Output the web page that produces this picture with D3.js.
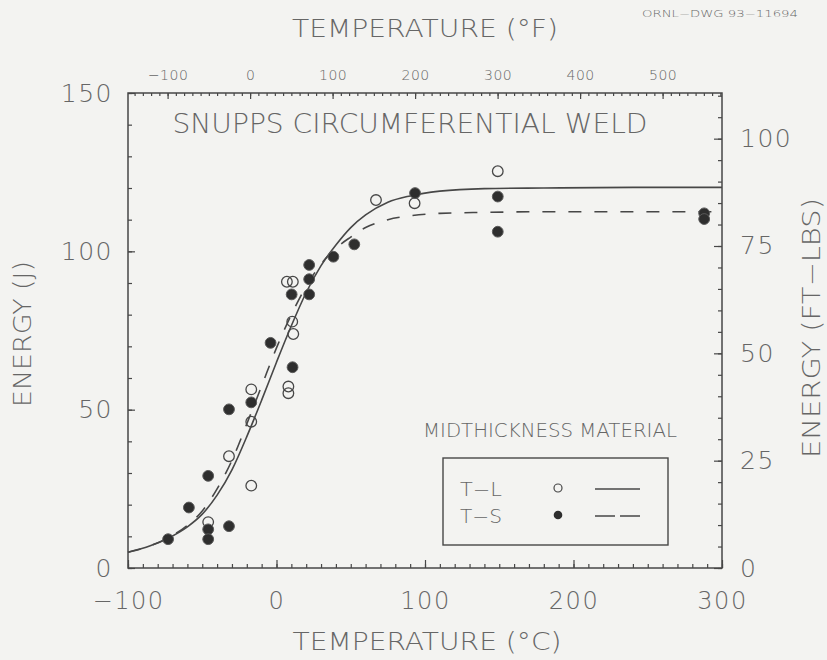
<!DOCTYPE html>
<html>
<head>
<meta charset="utf-8">
<script src="https://cdn.jsdelivr.net/npm/d3@7/dist/d3.min.js"></script>
<style>
  body { margin: 0; background: #f3f3f1; }
  svg { display: block; }
  text { font-family: "DejaVu Sans", "Liberation Sans", sans-serif; font-weight: 300; fill: #666; }
</style>
</head>
<body>
<div id="grafico"></div>
<script>
// Datos (temperatura en °C, energía en J)
var tlTemp   = [-46, -32, -17, -17, -17, 8, 8, 7, 11, 10.6, 11.3, 67, 93, 149];
var tlEnergy = [14.5, 35.3, 56.4, 46.2, 26, 57.3, 55.2, 90.4, 90.4, 77.8, 73.9, 116.2, 115.2, 125.3];

var tsTemp   = [-73, -59, -46, -46, -46, -32, -32, -17, -4, 10.8, 10.2, 22, 22, 22, 38.3, 52.4, 93.3, 149, 149, 288, 288];
var tsEnergy = [9.1, 19.1, 29.1, 12.2, 9.1, 13.2, 50.1, 52.3, 71.1, 63.4, 86.4, 95.7, 91.2, 86.4, 98.3, 102.2, 118.4, 117.3, 106.2, 112, 110.2];

// Curvas de ajuste
var fitTemp  = [-100, -85, -73, -60, -50, -40, -30, -20, -10, 0, 10, 20, 30, 40, 50, 60, 75, 90, 110, 140, 180, 240, 300];
var tlFit    = [5, 7, 9.4, 13, 17, 23, 31, 41.5, 53, 65, 76.5, 87, 95.5, 102, 107.5, 111.5, 115.5, 117.5, 119, 119.8, 120, 120.2, 120.2];
var tsFit    = [5, 7, 9.5, 13.5, 18, 25, 34, 45.5, 57.5, 69.5, 80, 89, 96, 101, 104.5, 107.5, 110, 111.2, 112, 112.3, 112.5, 112.5, 112.5];

// Etiquetas de los ejes
var ticksC  = [-100, 0, 100, 200, 300];
var ticksF  = [-100, 0, 100, 200, 300, 400, 500];
var ticksJ  = [0, 50, 100, 150];
var ticksFt = [0, 25, 50, 75, 100];

var width = 827, height = 660;
var pLeft = 128, pRight = 722, pTop = 93, pBottom = 568;
var ink = "#474747";
var txt = "#676767";

function cToF(c) { return c * 9 / 5 + 32; }

var svg = d3.select("#grafico")
  .append("svg")
  .attr("width", width)
  .attr("height", height);

var x = d3.scaleLinear().domain([-100, 300]).range([pLeft, pRight]);
var y = d3.scaleLinear().domain([0, 150]).range([pBottom, pTop]);
var xF = d3.scaleLinear().domain([cToF(-100), cToF(300)]).range([pLeft, pRight]);
var yFt = d3.scaleLinear().domain([0, 150 / 1.3558]).range([pBottom, pTop]);

// Función para dibujar un eje sin la línea de dominio
function drawAxis(axis, tx, ty, fontSize) {
  var g = svg.append("g")
    .attr("transform", "translate(" + tx + "," + ty + ")")
    .call(axis);
  g.select(".domain").remove();
  g.selectAll("line").attr("stroke", ink).attr("stroke-width", 1.2);
  g.selectAll("text")
    .attr("font-size", fontSize)
    .attr("font-family", "DejaVu Sans, sans-serif")
    .attr("font-weight", 300)
    .attr("fill", txt)
    .attr("letter-spacing", fontSize > 20 ? 1.5 : 0.5);
  return g;
}

// Eje inferior (°C)
drawAxis(d3.axisBottom(x).tickValues(d3.range(-100, 301, 10)).tickSize(-4).tickFormat(""), 0, pBottom, 10);
drawAxis(d3.axisBottom(x).tickValues(ticksC).tickSize(-8).tickPadding(24), 0, pBottom, 24);

// Eje superior (°F)
drawAxis(d3.axisTop(xF).tickValues(d3.range(-140, 571, 10)).tickSize(-3).tickFormat(""), 0, pTop, 10);
drawAxis(d3.axisTop(xF).tickValues(ticksF).tickSize(-6).tickPadding(13), 0, pTop, 14);

// Eje izquierdo (J)
drawAxis(d3.axisLeft(y).tickValues(d3.range(0, 151, 10)).tickSize(-4).tickFormat(""), pLeft, 0, 10);
drawAxis(d3.axisLeft(y).tickValues(ticksJ).tickSize(-7).tickPadding(15), pLeft, 0, 25);

// Eje derecho (ft-lbs)
drawAxis(d3.axisRight(yFt).tickValues(d3.range(0, 111, 5)).tickSize(-4).tickFormat(""), pRight, 0, 10);
drawAxis(d3.axisRight(yFt).tickValues(ticksFt).tickSize(-8).tickPadding(18), pRight, 0, 25);

// Marco
svg.append("rect")
  .attr("x", pLeft).attr("y", pTop)
  .attr("width", pRight - pLeft).attr("height", pBottom - pTop)
  .attr("fill", "none").attr("stroke", ink).attr("stroke-width", 1.5);

// Títulos
function addText(str, tx, ty, size, len, rotate) {
  var t = svg.append("text")
    .attr("x", tx).attr("y", ty)
    .attr("font-size", size)
    .attr("text-anchor", "middle")
    .attr("textLength", len)
    .attr("lengthAdjust", "spacingAndGlyphs")
    .text(str);
  if (rotate) t.attr("transform", "rotate(-90," + tx + "," + ty + ")");
  return t;
}

addText("TEMPERATURE (°F)", 425, 37, 25, 266);
addText("TEMPERATURE (°C)", 427, 650, 25, 269);
addText("ENERGY (J)", 31, 334, 24, 146, true);
addText("ENERGY (FT\u2212LBS)", 820, 328, 24, 260, true);
addText("SNUPPS CIRCUMFERENTIAL WELD", 410, 133, 27, 475);
addText("ORNL\u2212DWG 93\u221211694", 720, 17, 9, 156);

// Curvas de ajuste
var line = d3.line()
  .x(function(d) { return x(d[0]); })
  .y(function(d) { return y(d[1]); })
  .curve(d3.curveMonotoneX);

svg.append("path")
  .datum(fitTemp.map(function(t, i) { return [t, tlFit[i]]; }))
  .attr("d", line)
  .attr("fill", "none").attr("stroke", ink).attr("stroke-width", 1.6);

svg.append("path")
  .datum(fitTemp.map(function(t, i) { return [t, tsFit[i]]; }))
  .attr("d", line)
  .attr("fill", "none").attr("stroke", ink).attr("stroke-width", 1.6)
  .attr("stroke-dasharray", "13,13");

// Puntos T-L (abiertos)
svg.selectAll(".tl")
  .data(tlTemp.map(function(t, i) { return [t, tlEnergy[i]]; }))
  .enter()
  .append("circle")
  .attr("class", "tl")
  .attr("cx", function(d) { return x(d[0]); })
  .attr("cy", function(d) { return y(d[1]); })
  .attr("r", 5.3)
  .attr("fill", "none").attr("stroke", ink).attr("stroke-width", 1.3);

// Puntos T-S (rellenos)
svg.selectAll(".ts")
  .data(tsTemp.map(function(t, i) { return [t, tsEnergy[i]]; }))
  .enter()
  .append("circle")
  .attr("class", "ts")
  .attr("cx", function(d) { return x(d[0]); })
  .attr("cy", function(d) { return y(d[1]); })
  .attr("r", 5.4)
  .attr("fill", "#2e2e2e").attr("stroke", "#5a5a5a").attr("stroke-width", 1);

// Leyenda
addText("MIDTHICKNESS MATERIAL", 550, 437, 19, 254);
svg.append("rect")
  .attr("x", 443).attr("y", 458).attr("width", 225).attr("height", 87)
  .attr("fill", "none").attr("stroke", ink).attr("stroke-width", 1.4);
addText("T\u2212L", 481, 496, 19, 42);
addText("T\u2212S", 481, 523, 19, 42);
svg.append("circle").attr("cx", 558).attr("cy", 488).attr("r", 4)
  .attr("fill", "none").attr("stroke", ink).attr("stroke-width", 1.2);
svg.append("circle").attr("cx", 558).attr("cy", 515).attr("r", 4.3)
  .attr("fill", "#2e2e2e");
svg.append("line").attr("x1", 595).attr("x2", 640).attr("y1", 489).attr("y2", 489)
  .attr("stroke", ink).attr("stroke-width", 1.5);
svg.append("line").attr("x1", 595).attr("x2", 640).attr("y1", 516).attr("y2", 516)
  .attr("stroke", ink).attr("stroke-width", 1.5).attr("stroke-dasharray", "20,5");
</script>
</body>
</html>
